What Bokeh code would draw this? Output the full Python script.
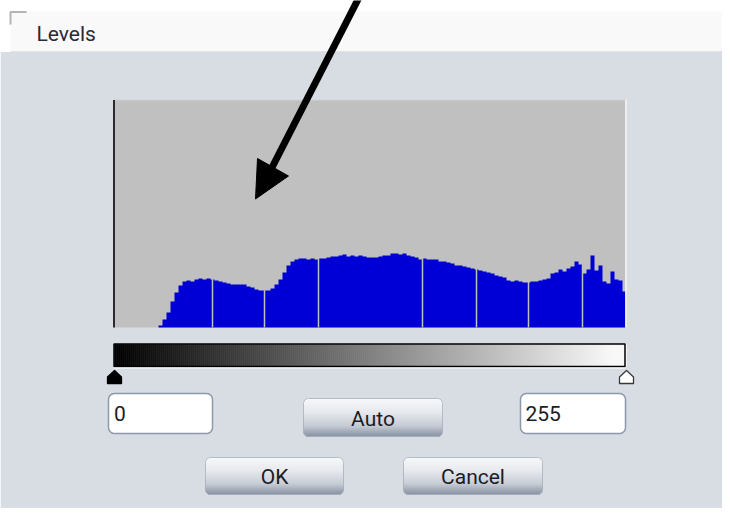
import numpy as np
from bokeh.plotting import figure
from bokeh.models import Range1d, ColumnDataSource
from bokeh.core.properties import value
from bokeh.embed import file_html
from bokeh.resources import INLINE

# ---------------- data ----------------
# histogram: 128 bins of 2 grey levels each (levels 0..255)
bin_counts = [
    0, 0, 0, 0, 0, 0, 0, 0, 0, 0,
    0, 2, 8, 15, 26, 35, 42, 46, 47, 46,
    48, 49, 48, 49, 48, 47, 46, 45, 44, 43,
    43, 43, 43, 41, 40, 38, 37, 37, 37, 39,
    43, 48, 55, 62, 66, 68, 69, 69, 68, 69,
    68, 69, 69, 70, 71, 71, 72, 73, 71, 72,
    71, 72, 71, 70, 70, 70, 71, 72, 72, 74,
    74, 73, 74, 72, 71, 70, 68, 69, 68, 68,
    68, 66, 66, 65, 64, 62, 62, 61, 60, 59,
    58, 57, 56, 55, 54, 52, 51, 50, 47, 46,
    47, 46, 45, 45, 46, 46, 47, 48, 49, 54,
    55, 58, 56, 59, 61, 66, 63, 54, 58, 72,
    57, 62, 46, 44, 56, 48, 47, 36,
]
levels_per_bin = 2
empty_levels = [49, 75, 102, 154, 181, 207, 234]   # levels with no pixels
grey_levels = list(range(256))                     # gradient strip levels
black_point = 0
white_point = 255
title_text = "Levels"
button_labels = ["Auto", "OK", "Cancel"]

# ---------------- figure (page-pixel coordinates) ----------------
W, H = 722, 508
p = figure(width=W, height=H, x_range=Range1d(0, W), y_range=Range1d(H, 0),
           output_backend="svg", toolbar_location=None, min_border=0,
           x_axis_location=None, y_axis_location=None)
p.min_border_left = p.min_border_right = p.min_border_top = p.min_border_bottom = 0
p.grid.visible = False
p.outline_line_color = None
p.background_fill_color = "white"
p.border_fill_color = "white"
# level scale (0..255 -> histogram width, 2 px per level) and count scale
p.extra_x_ranges = {"lvl": Range1d(-57, (W - 114) / 2)}
p.extra_y_ranges = {"cnt": Range1d(-(H - 327), 327)}

FONT = value("Roboto")
TXT = "#1c1c24"
DY = -8.5  # text baseline correction

# dialog chrome
p.quad(left=10, right=740, top=11, bottom=51, fill_color="#f9f9f9", line_color=None)
p.line([10, 740], [51, 51], line_color="#e1e3e7", line_width=1)
p.quad(left=0, right=740, top=51.5, bottom=520, fill_color="#d8dce3", line_color=None)
p.line([10, 10, 26], [24, 11.5, 11.5], line_color="#b4b4b4", line_width=2)
p.text(x=[36], y=[41.5 + DY], text=[title_text], text_font=FONT, text_font_size="21px",
       text_color="#2a2a36", text_baseline="alphabetic")

# histogram panel
p.quad(left=114, right=625, top=99.5, bottom=327, fill_color="#c0c0c0", line_color=None)
p.line([114, 625], [99.5, 99.5], line_color="#d2d2d2", line_width=1)

nb = len(bin_counts)
edges = np.arange(nb + 1) * levels_per_bin
hx = np.concatenate([[edges[0]], np.repeat(edges, 2)[1:-1], [edges[-1]]])
hy = np.concatenate([[0], np.repeat(bin_counts, 2), [0]])
hist_src = ColumnDataSource(dict(x=hx, y=hy))
p.patch(x="x", y="y", source=hist_src, fill_color="#0000d6", line_color=None,
        x_range_name="lvl", y_range_name="cnt")
gap_src = ColumnDataSource(dict(x=empty_levels))
p.vbar(x="x", width=0.75, top=90, bottom=0, source=gap_src, fill_color="#c0c0c0",
       line_color=None, x_range_name="lvl", y_range_name="cnt")
p.line([113.5, 113.5], [99.5, 327], line_color="#2a2a2a", line_width=2)
p.quad(left=624.8, right=632, top=99, bottom=328, fill_color="#d8dce3", line_color=None)
p.line([625.5, 625.5], [99, 327], line_color="#f4f4f4", line_width=1.5)

# gradient strip
g = np.array(grey_levels)
gcol = ["#%02x%02x%02x" % (min(v, 248), min(v, 248), min(v, 248)) for v in g]
grad_src = ColumnDataSource(dict(left=g, right=g + 1, color=gcol))
p.quad(left="left", right="right", top=344, bottom=365.5, source=grad_src,
       fill_color="color", line_color="color", line_width=0.6, x_range_name="lvl")
p.quad(left=113.5, right=624.5, top=343.5, bottom=366, fill_color=None,
       line_color="black", line_width=1.5)
p.line([113, 625], [367.5, 367.5], line_color="white", line_width=1.2)

# level markers (through the level scale)
def marker(cx_lvl, fill, line):
    xs = [0, 7, 7, -7, -7]
    ys = [370, 376.5, 383, 383, 376.5]
    src = ColumnDataSource(dict(x=[cx_lvl + dx / 2 for dx in xs], y=ys))
    p.patch(x="x", y="y", source=src, fill_color=fill, line_color=line,
            line_width=1.3, line_join="round", x_range_name="lvl")

marker(black_point, "black", "black")
marker(white_point + 1, "white", "#3a3a3a")

# rounded rectangle helper
def rrect(x0, y0, x1, y1, r, n=7):
    xs, ys = [], []
    for cx, cy, a0, a1 in [(x1 - r, y0 + r, -90, 0), (x1 - r, y1 - r, 0, 90),
                           (x0 + r, y1 - r, 90, 180), (x0 + r, y0 + r, 180, 270)]:
        for a in np.radians(np.linspace(a0, a1, n)):
            xs.append(cx + r * np.cos(a))
            ys.append(cy + r * np.sin(a))
    return xs, ys

# text boxes
for (x0, y0, x1, y1) in [(108, 393, 212, 433), (520, 393, 625, 433)]:
    xs, ys = rrect(x0, y0, x1, y1, 6)
    p.patch(xs, ys, fill_color="white", line_color="#8d98a9", line_width=1.5)
p.text(x=[113.5, 525], y=[421.5 + DY, 421.5 + DY], text=[str(black_point), str(white_point)],
       text_font=FONT, text_font_size="21px", text_color=TXT, text_baseline="alphabetic")

# buttons
stops = [(0.0, (251, 252, 253)), (0.35, (234, 236, 240)), (0.72, (196, 202, 212)),
         (1.0, (126, 136, 152))]

def grad_color(t):
    for (t0, c0), (t1, c1) in zip(stops[:-1], stops[1:]):
        if t <= t1:
            f = (t - t0) / (t1 - t0)
            c = [round(a + (b - a) * f) for a, b in zip(c0, c1)]
            return "#%02x%02x%02x" % tuple(c)
    return "#%02x%02x%02x" % stops[-1][1]

btns = [(303, 398, 442, 436), (205, 457, 343, 494), (403, 457, 542, 494)]
L, R, T, B, C = [], [], [], [], []
for (x0, y0, x1, y1) in btns:
    r = 5.0
    for yy in np.arange(y0, y1):
        yc = yy + 0.5
        d = max(r - (yc - y0), r - (y1 - yc), 0)
        ins = r - np.sqrt(max(r * r - d * d, 0)) if d > 0 else 0
        L.append(x0 + ins); R.append(x1 - ins); T.append(yy); B.append(yy + 1)
        C.append(grad_color((yc - y0) / (y1 - y0)))
p.quad(left=L, right=R, top=T, bottom=B, fill_color=C, line_color=C, line_width=0.3)
for (x0, y0, x1, y1) in btns:
    xs, ys = rrect(x0, y0, x1, y1, 5)
    p.patch(xs, ys, fill_color=None, line_color="#a7afbb", line_width=0.8)

bx = [(b[0] + b[2]) / 2 for b in btns]
p.text(x=bx, y=[426.5 + DY, 485 + DY, 485 + DY], text=button_labels, text_font=FONT,
       text_font_size="21px", text_color=TXT, text_align="center",
       text_baseline="alphabetic")

# arrow
p.line([358, 271], [-2, 168], line_color="black", line_width=7)
p.patch([255, 257, 288], [198.5, 158, 175.5], fill_color="black", line_color="black",
        line_width=1)

open("out.html", "w").write(file_html(p, INLINE))
